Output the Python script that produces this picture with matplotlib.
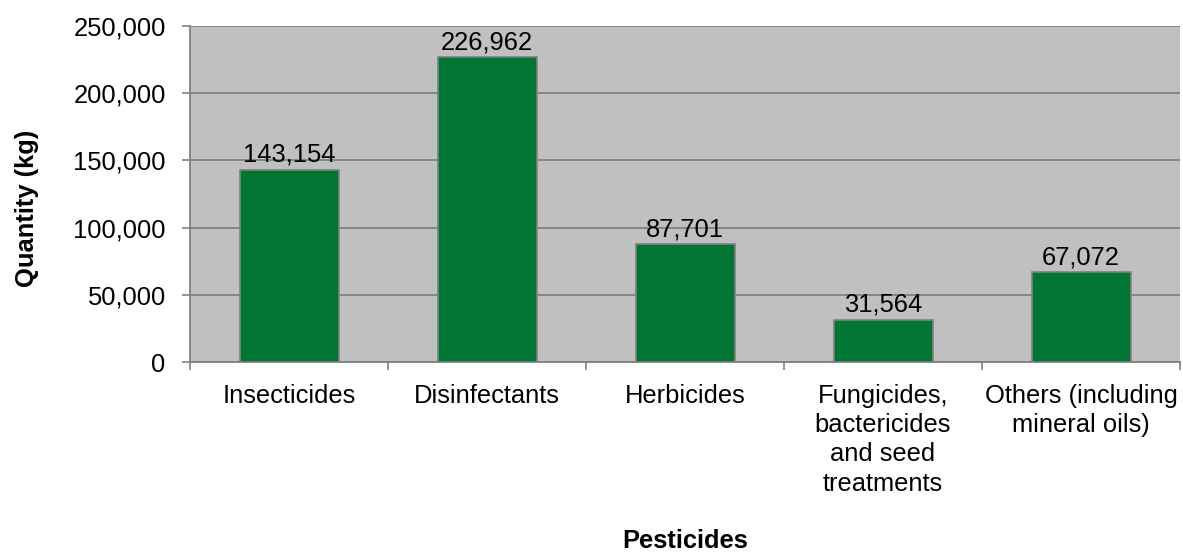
import matplotlib
matplotlib.use("Agg")
import matplotlib.pyplot as plt
from matplotlib.ticker import FuncFormatter, FixedLocator

categories = ["Insecticides", "Disinfectants", "Herbicides",
              "Fungicides,\nbactericides\nand seed\ntreatments",
              "Others (including\nmineral oils)"]
values = [143154, 226962, 87701, 31564, 67072]
yticks = [0, 50000, 100000, 150000, 200000, 250000]

plt.rcParams['font.family'] = ['Liberation Sans', 'DejaVu Sans']
FS = 18.4

fig = plt.figure(figsize=(11.83, 5.52), dpi=100)
ax = fig.add_axes([190/1183, 1-362/552, (1180-190)/1183, (362-26)/552])
ax.set_facecolor('#C0C0C0')

x = list(range(len(categories)))
ax.bar(x, values, width=0.5, color='#007534', edgecolor='#808080', linewidth=1.2, zorder=3)
for xi, v in zip(x, values):
    ax.annotate(f"{v:,}", (xi, v), xytext=(0, 2), textcoords='offset points',
                ha='center', va='bottom', fontsize=FS, zorder=4)

ax.set_xlim(-0.5, len(categories) - 0.5)
ax.set_ylim(0, 250000)
ax.set_yticks(yticks)
ax.yaxis.set_major_formatter(FuncFormatter(lambda v, p: f"{int(v):,}"))
ax.yaxis.grid(True, color='#808080', linewidth=1.3, zorder=1)
ax.set_axisbelow(True)

ax.set_xticks(x)
ax.set_xticklabels(categories, fontsize=FS, linespacing=1.27)
ax.tick_params(axis='x', which='major', length=0, pad=16)
ax.xaxis.set_minor_locator(FixedLocator([i - 0.5 for i in range(len(categories) + 1)]))
ax.tick_params(axis='x', which='minor', length=6, color='#808080', width=1.2)
ax.tick_params(axis='y', length=5.5, color='#808080', width=1.2, labelsize=FS, pad=12)

for s in ['top', 'right']:
    ax.spines[s].set_visible(False)
for s in ['left', 'bottom']:
    ax.spines[s].set_color('#808080')
    ax.spines[s].set_linewidth(1.3)

ax.set_ylabel("Quantity (kg)", fontsize=FS, fontweight='bold', va='center')
ax.yaxis.set_label_coords((27-190)/990, (362-208)/336)
ax.set_xlabel("Pesticides", fontsize=FS, fontweight='bold', va='center')
ax.xaxis.set_label_coords(0.5, (362-541)/336)

fig.savefig("out.png", dpi=100)
